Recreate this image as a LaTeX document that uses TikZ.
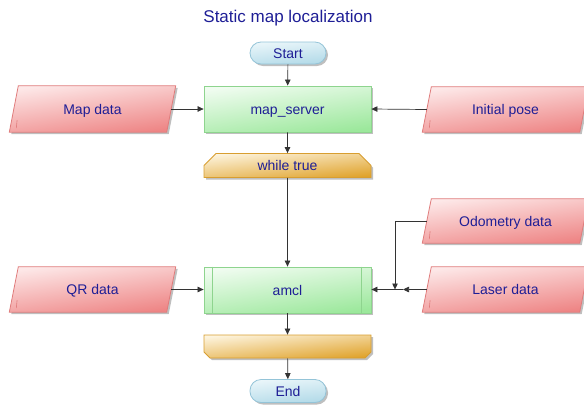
\documentclass[tikz,border=0pt]{standalone}
\usepackage{fontspec}
\setmainfont{Liberation Sans}
\usetikzlibrary{arrows.meta,shadows,backgrounds,shapes.misc}
\definecolor{txt}{HTML}{1E1E96}
\definecolor{tertop}{HTML}{EAF6FA}
\definecolor{terbot}{HTML}{B2DAE8}
\definecolor{terline}{HTML}{94C4D8}
\definecolor{prctop}{HTML}{F0FCF0}
\definecolor{prcbot}{HTML}{9CE89C}
\definecolor{prcline}{HTML}{8ED48E}
\definecolor{looptop}{HTML}{FDF4DE}
\definecolor{loopbot}{HTML}{E0A32C}
\definecolor{loopline}{HTML}{D89E30}
\definecolor{iotop}{HTML}{FDE8E8}
\definecolor{iobot}{HTML}{EE8585}
\definecolor{ioline}{HTML}{E07C7C}
\definecolor{wire}{HTML}{333333}
\tikzset{
  shad/.style={drop shadow={shadow xshift=2pt,shadow yshift=-2pt,opacity=0.25,fill=black}},
  txtbox/.style={text height=11pt,text depth=1pt},
  term/.style={draw=terline,line width=0.8pt,rounded corners=11pt,top color=tertop,bottom color=terbot,shading angle=6,minimum width=76pt,minimum height=22pt,inner sep=0pt,shad,txtbox},
  proc/.style={draw=prcline,line width=0.8pt,top color=prctop,bottom color=prcbot,shading angle=8,minimum width=167pt,minimum height=46pt,inner sep=0pt,shad,txtbox},
  loopshape/.style={chamfered rectangle,chamfered rectangle xsep=6pt,chamfered rectangle ysep=6pt,draw=loopline,line width=0.8pt,top color=looptop,bottom color=loopbot,shading angle=6,minimum width=167pt,minimum height=23pt,inner sep=0pt,shad,txtbox},
  iobox/.style={minimum width=157pt,minimum height=45pt,inner sep=0pt,txtbox},
  iofill/.style={draw=ioline,line width=0.8pt,top color=iotop,bottom color=iobot,shading angle=8,shad},
  arr/.style={draw=wire,line width=0.7pt,-{Triangle[length=6pt,width=5.5pt]}},
  ln/.style={draw=wire,line width=0.7pt},
}
\begin{document}
\begin{tikzpicture}[x=1pt,y=-1pt,font=\fontsize{14}{16}\selectfont,text=txt]
\useasboundingbox (0,0) rectangle (584,405);
\node[font=\fontsize{17}{20}\selectfont] (title) at (288,18) {Static map localization};
\node[term] (start) at (288,53) {Start};
\node[proc] (ms) at (287.5,109) {map\_server};
\node[loopshape,chamfered rectangle corners={north west,north east}] (wt) at (287.5,165.5) {while true};
\node[proc] (amcl) at (287.5,290) {amcl};
\draw[prcline,line width=0.6pt] ([xshift=9pt]amcl.north west) -- ([xshift=9pt]amcl.south west);
\draw[prcline,line width=0.6pt] ([xshift=-10pt]amcl.north east) -- ([xshift=-10pt]amcl.south east);
\node[loopshape,chamfered rectangle corners={south west,south east}] (le) at (287.5,346.5) {};
\node[term,minimum height=23pt] (end) at (288,391) {End};
\node[iobox,minimum height=46pt] (map) at (92.5,109) {Map data};
\node[iobox] (init) at (505.5,109.5) {Initial pose};
\node[iobox,minimum height=44pt] (odo) at (505.5,221) {Odometry data};
\node[iobox] (laser) at (505.5,289.5) {Laser data};
\node[iobox] (qr) at (92.5,289.5) {QR data};
\begin{pgfonlayer}{background}
\foreach \n in {map,init,odo,laser,qr}{
  \path[iofill] ([xshift=4.5pt]\n.north west) -- ([xshift=4.5pt]\n.north east) -- ([xshift=-4.5pt]\n.south east) -- ([xshift=-4.5pt]\n.south west) -- cycle;
  \draw[ioline,line width=0.6pt] ([xshift=2.5pt,yshift=4pt]\n.south west) -- ([xshift=3.3pt,yshift=12pt]\n.south west);
}
\end{pgfonlayer}
\coordinate (jo) at (395,289.5);
\coordinate (jl) at (403,289.5);
\draw[arr] (start) -- (ms);
\draw[arr] (ms) -- (wt);
\draw[arr] (wt) -- (amcl);
\draw[arr] (amcl) -- (le);
\draw[arr] (le) -- (end);
\draw[arr] (map.east) -- (ms.west);
\draw[arr] (init.west) -- (ms.east);
\draw[arr] (qr.east) -- (amcl.west |- qr.east);
\draw[arr] (laser.west) -- (jl);
\draw[arr] (jl) -- (amcl.east |- jl);
\draw[arr] (odo.west) -| (jo);
\end{tikzpicture}
\end{document}
